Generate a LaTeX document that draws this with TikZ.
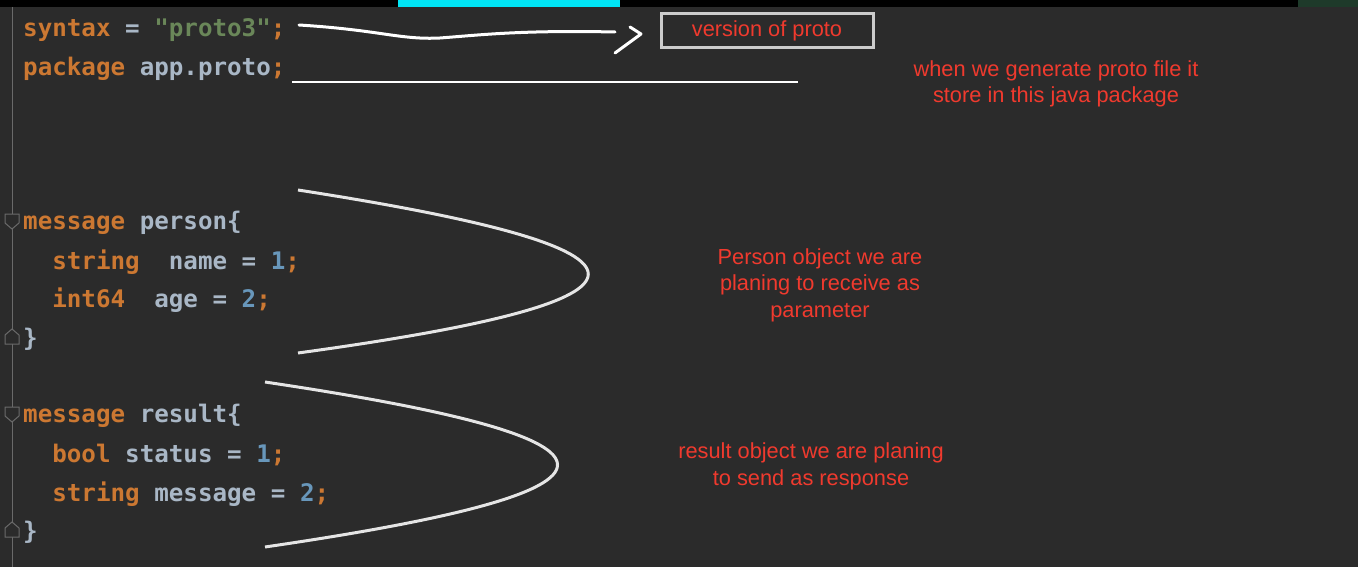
\documentclass[tikz,border=0pt]{standalone}
\usepackage{fontspec}
\setmonofont{DejaVu Sans Mono}
\setsansfont{Liberation Sans}
\begin{document}
\begin{tikzpicture}[x=1pt,y=-1pt,
  code/.style={anchor=west,inner sep=0pt,font=\ttfamily\bfseries\fontsize{24.2}{26}\selectfont,text=cplain},
  note/.style={align=center,inner sep=0pt,font=\sffamily\fontsize{21.8}{26.5}\selectfont,text=cred},
  pen/.style={draw=white,line width=3pt,line cap=round,line join=round},
  fold/.style={draw=cgut,line width=1pt,fill=cbg}]
\definecolor{cbg}{HTML}{2B2B2B}
\definecolor{cplain}{HTML}{A9B7C6}
\definecolor{ckw}{HTML}{CC7832}
\definecolor{cstr}{HTML}{6A8759}
\definecolor{cnum}{HTML}{6897BB}
\definecolor{cred}{HTML}{F03A2E}
\definecolor{cgut}{HTML}{6A6A6A}
\definecolor{ccyan}{HTML}{00E5F5}
\definecolor{cdkg}{HTML}{1E3A2A}
\useasboundingbox (0,0) rectangle (1358,567);
\fill[cbg] (0,0) rectangle (1358,567);
\fill[black] (0,0) rectangle (1358,7);
\fill[ccyan] (398,0) rectangle (620,7);
\fill[cdkg] (1298,0) rectangle (1358,7);
\draw[cgut,line width=1pt] (12,7) -- (12,567);
% fold markers
\foreach \yy in {221,414}{\draw[fold] (5,\yy-7) -- (19,\yy-7) -- (19,\yy+2) -- (12,\yy+8) -- (5,\yy+2) -- cycle;}
\foreach \yy in {337,530}{\draw[fold] (5,\yy+7) -- (19,\yy+7) -- (19,\yy-2) -- (12,\yy-8) -- (5,\yy-2) -- cycle;}
% code
\node[code] (l1) at (23,30) {\textcolor{ckw}{syntax} = \textcolor{cstr}{"proto3"}\textcolor{ckw}{;}};
\node[code] (l2) at (23,69) {\textcolor{ckw}{package} app.proto\textcolor{ckw}{;}};
\node[code] (l3) at (23,223) {\textcolor{ckw}{message} person\{};
\node[code] (l4) at (23,262) {\ \ \textcolor{ckw}{string}\ \ name = \textcolor{cnum}{1}\textcolor{ckw}{;}};
\node[code] (l5) at (23,300) {\ \ \textcolor{ckw}{int64}\ \ age = \textcolor{cnum}{2}\textcolor{ckw}{;}};
\node[code] (l6) at (23,339) {\}};
\node[code] (l7) at (23,416) {\textcolor{ckw}{message} result\{};
\node[code] (l8) at (23,455) {\ \ \textcolor{ckw}{bool} status = \textcolor{cnum}{1}\textcolor{ckw}{;}};
\node[code] (l9) at (23,494) {\ \ \textcolor{ckw}{string} message = \textcolor{cnum}{2}\textcolor{ckw}{;}};
\node[code] (l10) at (23,532) {\}};
% annotations
\node[draw=white!80!black,line width=3pt,minimum width=212pt,minimum height=34pt,inner sep=0pt,font=\sffamily\fontsize{21.8}{24}\selectfont,text=cred] (ver) at (767,31) {version of proto};
\node[note] (pkg) at (1056,84) {when we generate proto file it\\store in this java package};
\node[note] (per) at (820,285) {Person object we are\\planing to receive as\\parameter};
\node[note] (res) at (811,466.5) {result object we are planing\\to send as response};
% strokes
\coordinate (a0) at (299,25);
\coordinate (a1) at (615,32);
\draw[pen] (a0) .. controls (380,30) and (400,40) .. (440,38) .. controls (480,35) and (520,30) .. (a1);
\draw[pen] (630,27) -- (641,34) -- (615,53);
\coordinate (u0) at (292,82);
\coordinate (u1) at (798,82);
\draw[white,line width=2pt] (u0) -- (u1);
\coordinate (p0) at (298,190);
\coordinate (p1) at (298,353);
\draw[draw=white!90!black,line width=3pt] (p0) .. controls (685,250) and (685,300) .. (p1);
\coordinate (r0) at (265,382);
\coordinate (r1) at (265,547);
\draw[draw=white!90!black,line width=3pt] (r0) .. controls (655,440) and (655,490) .. (r1);
\end{tikzpicture}
\end{document}
